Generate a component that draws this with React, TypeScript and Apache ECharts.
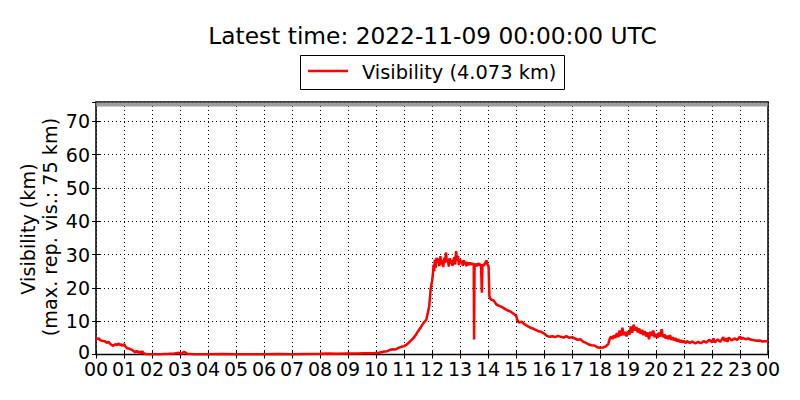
import React, { useEffect, useRef } from "react";
import * as echarts from "echarts";

const TITLE = "Latest time: 2022-11-09 00:00:00 UTC";
const SERIES_NAME = "Visibility (4.073 km)";
const Y_LABEL_1 = "Visibility (km)";
const Y_LABEL_2 = "(max. rep. vis.: 75 km)";
const MAX_REP_VIS = 75;
const Y_MAX = 75.75;

// hours since 00 UTC
const hours = [
  0, 0.05, 0.1, 0.15, 0.2, 0.3, 0.4, 0.45, 0.5, 0.55, 0.6, 0.7, 0.75, 0.8, 0.85, 0.9, 0.95,
  1.0, 1.05, 1.1, 1.2, 1.3, 1.35, 1.4, 1.45, 1.5, 1.55, 1.6, 1.65, 1.7, 1.75, 1.8,
  2.0, 2.3, 2.6, 2.8, 2.95, 3.05, 3.15, 3.25, 3.5, 4.0, 4.5, 5.0, 5.5, 6.0, 6.5, 7.0, 7.5,
  8.0, 8.3, 8.6, 9.0, 9.3, 9.6, 9.9, 10.1, 10.25, 10.4, 10.5, 10.6, 10.7, 10.8, 10.9,
  11.0, 11.1, 11.2, 11.3, 11.4, 11.5, 11.6, 11.7, 11.8, 11.85, 11.9, 11.95,
  12.0, 12.03, 12.06, 12.08, 12.1, 12.13, 12.16, 12.2, 12.23, 12.26, 12.3, 12.33, 12.36, 12.4,
  12.43, 12.46, 12.5, 12.53, 12.56, 12.6, 12.63, 12.66, 12.7, 12.73, 12.76, 12.8, 12.83, 12.86,
  12.9, 12.93, 12.96, 13.0, 13.03, 13.06, 13.1, 13.13, 13.16, 13.2, 13.23, 13.26, 13.3, 13.33,
  13.36, 13.4, 13.45, 13.49, 13.5, 13.52, 13.56, 13.6, 13.65, 13.7, 13.75, 13.78, 13.8, 13.85,
  13.9, 13.95, 13.98, 14.02, 14.05, 14.1, 14.2, 14.3, 14.4, 14.5, 14.6, 14.7, 14.8, 14.9,
  15.0, 15.05, 15.1, 15.2, 15.3, 15.4, 15.5, 15.6, 15.7, 15.8, 15.9,
  16.0, 16.1, 16.2, 16.3, 16.4, 16.5, 16.6, 16.7, 16.8, 16.9,
  17.0, 17.1, 17.2, 17.3, 17.4, 17.5, 17.6, 17.7, 17.8, 17.9,
  18.0, 18.1, 18.2, 18.3, 18.35, 18.4, 18.45, 18.5, 18.55, 18.6, 18.65, 18.7, 18.75, 18.8, 18.85, 18.9, 18.95,
  19.0, 19.05, 19.1, 19.15, 19.2, 19.25, 19.3, 19.35, 19.4, 19.45, 19.5, 19.55, 19.6, 19.65, 19.7, 19.75, 19.8, 19.85, 19.9, 19.95,
  20.0, 20.05, 20.1, 20.15, 20.2, 20.25, 20.3, 20.35, 20.4, 20.45, 20.5, 20.55, 20.6, 20.65, 20.7, 20.75, 20.8, 20.85, 20.9, 20.95,
  21.0, 21.05, 21.1, 21.2, 21.3, 21.4, 21.5, 21.6, 21.7, 21.8, 21.9,
  22.0, 22.05, 22.1, 22.2, 22.3, 22.4, 22.45, 22.5, 22.55, 22.6, 22.7, 22.8, 22.9,
  23.0, 23.05, 23.1, 23.2, 23.3, 23.4, 23.5, 23.6, 23.7, 23.8, 23.9, 24.0,
];

// visibility in km
const visibility = [
  4.8, 4.6, 4.9, 4.3, 4.1, 4.0, 3.5, 3.8, 3.2, 2.9, 2.6, 3.1, 2.8, 3.3, 2.9, 3.0, 2.6,
  3.1, 2.4, 1.9, 1.7, 1.3, 1.0, 0.6, 1.1, 0.5, 0.9, 0.3, 1.0, 0.4, 0.2, 0.1,
  0.1, 0.1, 0.2, 0.3, 0.5, 0.2, 0.8, 0.2, 0.1, 0.1, 0.15, 0.1, 0.1, 0.1, 0.15, 0.1, 0.15,
  0.2, 0.3, 0.2, 0.3, 0.3, 0.4, 0.4, 0.5, 0.8, 1.0, 1.4, 1.6, 1.5, 2.0, 2.3,
  2.5, 3.0, 3.8, 4.6, 5.6, 7.0, 8.2, 9.5, 10.5, 12.5, 14.5, 19.5,
  22.0, 24.0, 27.0, 25.0, 28.5, 26.0, 29.0, 27.5, 28.8, 26.5, 29.5, 27.0, 28.2, 26.2,
  29.0, 27.4, 30.6, 27.8, 28.6, 26.4, 28.9, 27.2, 28.4, 26.6, 27.9, 29.2, 27.0, 31.0,
  28.0, 29.6, 26.8, 28.6, 27.4, 28.1, 26.6, 28.3, 27.1, 27.8, 26.5, 27.7, 27.2, 26.8,
  27.6, 27.0, 27.3, 26.9, 4.5, 26.8, 27.2, 26.5, 27.4, 26.8, 27.1, 18.5, 27.0, 26.6,
  27.5, 28.2, 27.0, 26.5, 17.5, 16.5, 16.2, 15.0, 14.6, 14.2, 13.7, 13.2, 12.9, 12.3,
  11.6, 10.3, 9.6, 9.8, 9.1, 8.6, 8.1, 7.8, 7.4, 7.0, 6.8,
  6.3, 5.6, 5.3, 5.5, 5.2, 5.6, 5.3, 5.1, 5.5, 5.0,
  5.2, 4.8, 4.4, 4.6, 3.8, 3.5, 3.0, 2.8, 2.7, 2.2,
  2.0, 2.1, 2.4, 3.2, 4.8, 5.4, 4.6, 5.8, 5.0, 6.4, 5.2, 7.2, 5.6, 8.0, 5.8, 6.8, 5.4,
  7.0, 5.9, 8.4, 6.5, 8.9, 7.2, 8.2, 6.6, 7.8, 6.2, 7.4, 5.8, 7.0, 5.4, 6.6, 4.6, 6.8, 5.6, 7.2, 5.2,
  6.2, 5.0, 6.6, 5.4, 7.6, 5.2, 6.0, 4.8, 5.6, 4.6, 5.8, 4.4, 5.2, 4.2, 4.9, 3.9, 4.6, 3.7, 4.3, 3.6,
  4.1, 3.4, 4.0, 3.5, 3.9, 3.3, 3.8, 3.4, 4.0, 3.6, 4.4,
  3.7, 4.8, 3.6, 4.5, 3.8, 5.2, 4.0, 4.9, 3.8, 5.1, 4.2, 4.8, 4.4,
  5.4, 4.6, 5.0, 4.6, 4.8, 4.4, 4.3, 4.1, 4.2, 3.9, 4.0, 4.073,
];

const X_MIN = 0;
const X_MAX = 24;
const Y_TICK_STEP = 10;

const FONT = "DejaVu Sans";

export default function App() {
  const ref = useRef<HTMLDivElement>(null);

  useEffect(() => {
    if (!ref.current) return;
    const chart = echarts.init(ref.current, undefined, { renderer: "svg" });

    const data = hours.map((h, i) => [h, visibility[i]]);
    const capData = [
      [X_MIN, MAX_REP_VIS],
      [X_MAX, MAX_REP_VIS],
    ];

    const hourLabel = (v: number) => String(Math.round(v) % 24).padStart(2, "0");
    const yLabel = (v: number) => (v === 0 ? "{zero|0}" : String(v));

    const dotted = { color: "#000", width: 1, type: [1, 3] as any };
    const tick = { inside: true, length: 4, lineStyle: { color: "#000", width: 1 } };

    chart.setOption({
      animation: false,
      backgroundColor: "#fff",
      textStyle: { fontFamily: FONT },
      grid: {
        left: 96,
        right: 32,
        top: 102,
        bottom: 45.5,
        show: true,
        borderColor: "#000",
        borderWidth: 1.5,
        backgroundColor: "transparent",
      },
      xAxis: [
        {
          type: "value",
          min: X_MIN,
          max: X_MAX,
          interval: 1,
          axisLine: { show: false },
          axisTick: tick,
          axisLabel: {
            formatter: hourLabel,
            color: "#000",
            fontSize: 19,
            lineHeight: 14,
            fontFamily: FONT,
            margin: 7,
          },
          splitLine: { show: true, lineStyle: dotted },
        },
        {
          type: "value",
          position: "top",
          min: X_MIN,
          max: X_MAX,
          interval: 1,
          axisLine: { show: false },
          axisTick: tick,
          axisLabel: { show: false },
          splitLine: { show: false },
        },
      ],
      yAxis: [
        {
          type: "value",
          min: 0,
          max: Y_MAX,
          interval: Y_TICK_STEP,
          axisLine: { show: false },
          axisTick: tick,
          axisLabel: {
            formatter: yLabel,
            color: "#000",
            fontSize: 19,
            lineHeight: 14,
            fontFamily: FONT,
            margin: 6,
            showMaxLabel: false,
            rich: {
              zero: {
                fontSize: 19,
                lineHeight: 14,
                fontFamily: FONT,
                color: "#000",
                padding: [0, 0, 5, 0],
              },
            },
          },
          splitLine: { show: true, lineStyle: dotted },
        },
        {
          type: "value",
          position: "right",
          min: 0,
          max: Y_MAX,
          interval: Y_TICK_STEP,
          axisLine: { show: false },
          axisTick: tick,
          axisLabel: { show: false },
          splitLine: { show: false },
        },
      ],
      series: [
        {
          type: "line",
          name: "max",
          data: capData,
          xAxisIndex: 0,
          yAxisIndex: 0,
          symbol: "none",
          silent: true,
          lineStyle: { color: "#8c8c8c", width: 4, opacity: 0.85 },
          z: 1,
        },
        {
          type: "line",
          name: SERIES_NAME,
          data,
          xAxisIndex: 0,
          yAxisIndex: 0,
          symbol: "none",
          lineStyle: { color: "#ff0000", width: 2.5 },
          z: 3,
        },
      ],
      graphic: [
        {
          type: "text",
          x: 432.5,
          y: 35,
          style: {
            text: TITLE,
            fontSize: 23.3,
            fontFamily: FONT,
            fill: "#000",
            align: "center",
            verticalAlign: "middle",
          },
        },
        {
          type: "rect",
          shape: { x: 300.5, y: 55.5, width: 264, height: 34 },
          style: { fill: "#fff", stroke: "#000", lineWidth: 1 },
        },
        {
          type: "line",
          shape: { x1: 308, y1: 71, x2: 348, y2: 71 },
          style: { stroke: "#ff0000", lineWidth: 2.5 },
        },
        {
          type: "text",
          x: 362,
          y: 72,
          style: {
            text: SERIES_NAME,
            fontSize: 19.4,
            fontFamily: FONT,
            fill: "#000",
            align: "left",
            verticalAlign: "middle",
          },
        },
        {
          type: "text",
          x: 28,
          y: 229,
          rotation: Math.PI / 2,
          style: {
            text: Y_LABEL_1,
            fontSize: 19.2,
            fontFamily: FONT,
            fill: "#000",
            align: "center",
            verticalAlign: "middle",
          },
        },
        {
          type: "text",
          x: 50,
          y: 227,
          rotation: Math.PI / 2,
          style: {
            text: Y_LABEL_2,
            fontSize: 19.2,
            fontFamily: FONT,
            fill: "#000",
            align: "center",
            verticalAlign: "middle",
          },
        },
      ],
    });

    return () => chart.dispose();
  }, []);

  return (
    <div
      ref={ref}
      style={{ position: "fixed", left: 0, top: 0, width: 800, height: 400 }}
    />
  );
}
